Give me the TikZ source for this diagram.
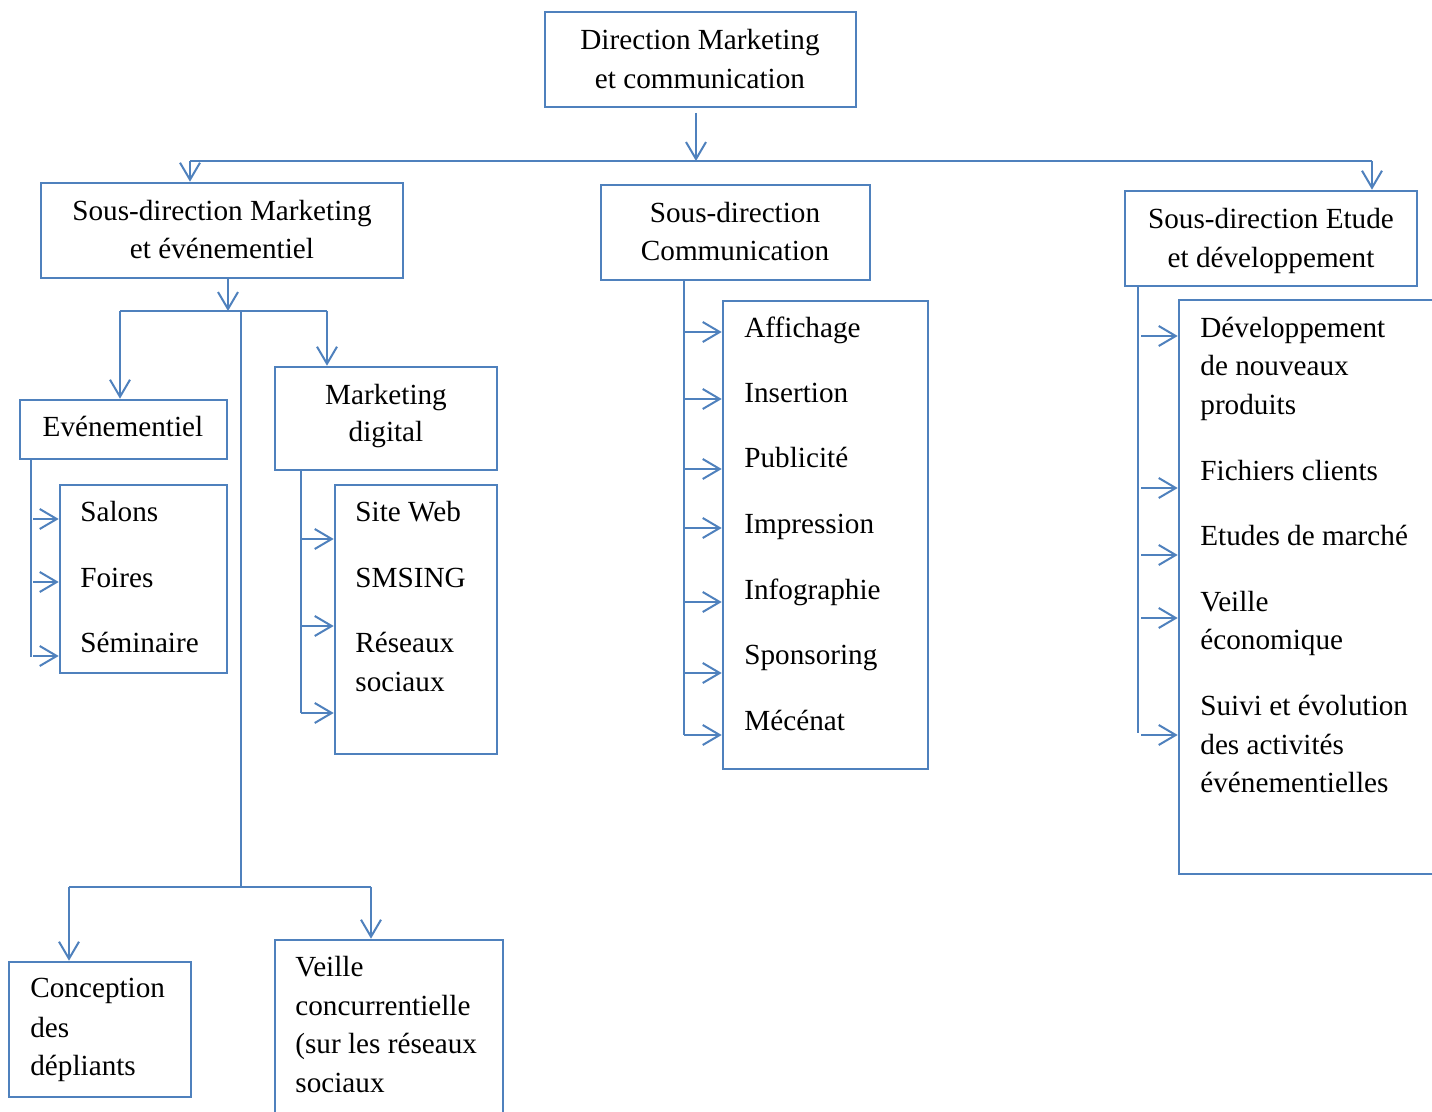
\documentclass[tikz,border=0pt]{standalone}
\usepackage{fontspec}
\setmainfont{Liberation Serif}
\usetikzlibrary{fit,arrows.meta}
\definecolor{bl}{RGB}{79,129,189}
\newcommand\myfs{\fontsize{14.6pt}{19.5pt}\selectfont}
\begin{document}
\begin{tikzpicture}[x=0.5pt,y=-0.5pt,
  box/.style={draw=bl,line width=1.3pt,inner sep=0pt},
  conn/.style={draw=bl,line width=1pt},
  arr/.style={conn,-{Straight Barb[length=8.5pt,width=10pt,line width=1pt]}},
  ct/.style={anchor=base,inner sep=0pt,font=\myfs},
  lt/.style={anchor=base west,inner sep=0pt,font=\myfs}]
\clip (0,0) rectangle (1432,1112);
\fill[white] (0,0) rectangle (1432,1112);
% boxes
\node[box,fit={(545,12)(856,107)}] (top) {};
\node[box,fit={(41,183)(403,278)}] (sdm) {};
\node[box,fit={(601,185)(870,280)}] (sdc) {};
\node[box,fit={(1125,191)(1417,286)}] (sde) {};
\node[box,fit={(20,400)(227,459)}] (eve) {};
\node[box,fit={(275,367)(497,470)}] (mdg) {};
\node[box,fit={(60,485)(227,673)}] (evl) {};
\node[box,fit={(335,485)(497,754)}] (mdl) {};
\node[box,fit={(723,301)(928,769)}] (sdcl) {};
\node[box,fit={(1179,300)(1445,874)}] (sdel) {};
\node[box,fit={(9,962)(191,1097)}] (conc) {};
\node[box,fit={(275,940)(503,1130)}] (veil) {};
% header texts
\node[ct] (top1) at (700,50) {Direction Marketing};
\node[ct] (top2) at (700,89) {et communication};
\node[ct] (sdm1) at (222,221) {Sous-direction Marketing};
\node[ct] (sdm2) at (222,259) {et événementiel};
\node[ct] (sdc1) at (735,223) {Sous-direction};
\node[ct] (sdc2) at (735,261) {Communication};
\node[ct] (sde1) at (1271,229) {Sous-direction Etude};
\node[ct] (sde2) at (1271,268) {et développement};
\node[ct] (eve1) at (123,437) {Evénementiel};
\node[ct] (mdg1) at (386,405) {Marketing};
\node[ct] (mdg2) at (386,442) {digital};
% list texts
\node[lt] (ev1) at (80,522) {Salons};
\node[lt] (ev2) at (80,588) {Foires};
\node[lt] (ev3) at (80,653) {Séminaire};
\node[lt] (md1) at (355,522) {Site Web};
\node[lt] (md2) at (355,588) {SMSING};
\node[lt] (md3) at (355,653) {Réseaux};
\node[lt] (md4) at (355,692) {sociaux};
\node[lt] (sc1) at (744,338) {Affichage};
\node[lt] (sc2) at (744,403) {Insertion};
\node[lt] (sc3) at (744,468) {Publicité};
\node[lt] (sc4) at (744,534) {Impression};
\node[lt] (sc5) at (744,600) {Infographie};
\node[lt] (sc6) at (744,665) {Sponsoring};
\node[lt] (sc7) at (744,731) {Mécénat};
\node[lt] (se1) at (1200,338) {Développement};
\node[lt] (se2) at (1200,376) {de nouveaux};
\node[lt] (se3) at (1200,415) {produits};
\node[lt] (se4) at (1200,481) {Fichiers clients};
\node[lt] (se5) at (1200,546) {Etudes de marché};
\node[lt] (se6) at (1200,612) {Veille};
\node[lt] (se7) at (1200,650) {économique};
\node[lt] (se8) at (1200,716) {Suivi et évolution};
\node[lt] (se9) at (1200,755) {des activités};
\node[lt] (se10) at (1200,793) {événementielles};
\node[lt] (cc1) at (30,998) {Conception};
\node[lt] (cc2) at (30,1037) {des};
\node[lt] (cc3) at (30,1075) {dépliants};
\node[lt] (vc1) at (295,977) {Veille};
\node[lt] (vc2) at (295,1015) {concurrentielle};
\node[lt] (vc3) at (295,1053) {(sur les réseaux};
\node[lt] (vc4) at (295,1092) {sociaux};
% top level connectors
\coordinate (t0) at (696,113);
\coordinate (jl) at (190,161);
\coordinate (jc) at (696,161);
\coordinate (jr) at (1372,161);
\draw[arr] (t0) -- (jc);
\draw[conn] (jl) -- (jr);
\draw[arr] (jl) -- (jl |- sdm.north);
\draw[arr] (jr) -- (jr |- sde.north);
% sous-direction marketing
\coordinate (m1) at (228,311);
\coordinate (mL) at (120,311);
\coordinate (mR) at (327,311);
\coordinate (mC) at (241,311);
\coordinate (bC) at (241,887);
\coordinate (bL) at (69,887);
\coordinate (bR) at (371,887);
\draw[arr] (m1 |- sdm.south) -- (m1);
\draw[conn] (mL) -- (mR);
\draw[arr] (mL) -- (mL |- eve.north);
\draw[arr] (mR) -- (mR |- mdg.north);
\draw[conn] (mC) -- (bC);
\draw[conn] (bL) -- (bR);
\draw[arr] (bL) -- (bL |- conc.north);
\draw[arr] (bR) -- (bR |- veil.north);
% evenementiel list
\coordinate (ex) at (31,657);
\draw[conn] (ex |- eve.south) -- (ex);
\foreach \y in {519,582,656} \draw[arr] (33,\y) -- (evl.west |- 0,\y);
% marketing digital list
\coordinate (dx) at (301,713);
\draw[conn] (dx |- mdg.south) -- (dx);
\foreach \y in {539,626,713} \draw[arr] (301,\y) -- (mdl.west |- 0,\y);
% communication list
\coordinate (cx) at (684,735);
\draw[conn] (cx |- sdc.south) -- (cx);
\foreach \y in {332,399,469,528,602,673,735} \draw[arr] (684,\y) -- (sdcl.west |- 0,\y);
% etude list
\coordinate (ux) at (1138,733);
\draw[conn] (ux |- sde.south) -- (ux);
\foreach \y in {336,488,555,618,735} \draw[arr] (1141,\y) -- (sdel.west |- 0,\y);
\end{tikzpicture}
\end{document}
